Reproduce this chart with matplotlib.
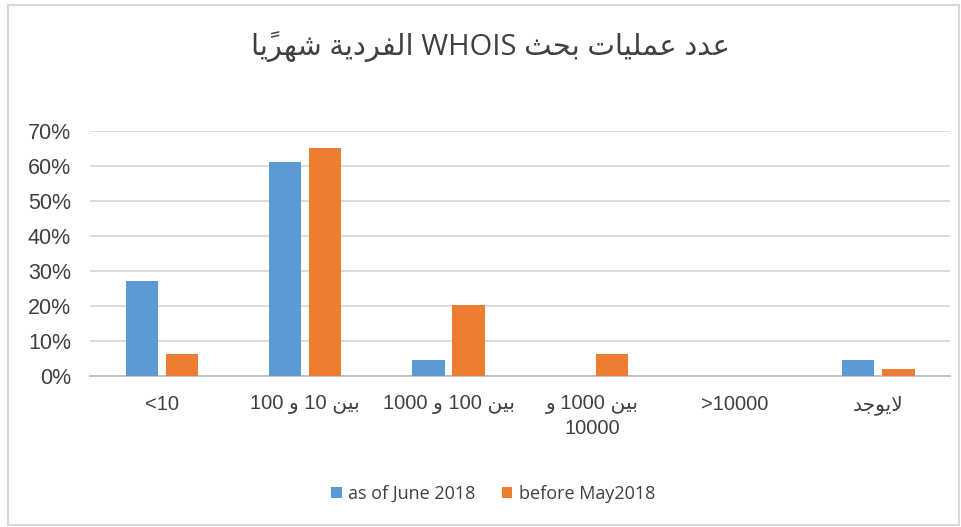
import numpy as np
import matplotlib
matplotlib.use("Agg")
import matplotlib.pyplot as plt
from matplotlib.patches import Rectangle

# chart data
title = "عدد عمليات بحث WHOIS الفردية شهريًا"
categories = ["\u003C10", "بين 10 و 100", "بين 100 و 1000", "بين 1000 و\n10000",
              "\u003E10000", "لايوجد"]
series_names = ["as of June 2018", "before May2018"]
june_2018 = [0.272, 0.611, 0.046, 0.0, 0.0, 0.046]
before_may_2018 = [0.063, 0.652, 0.203, 0.063, 0.0, 0.02]
y_ticks = [0, 0.1, 0.2, 0.3, 0.4, 0.5, 0.6, 0.7]

# matplotlib has no Arabic shaping, so pick presentation forms by hand
# (isolated, final, initial, medial)
FORMS = {
    "ا": ("\uFE8D", "\uFE8E", None, None),
    "ب": ("\uFE8F", "\uFE90", "\uFE91", "\uFE92"),
    "ة": ("\uFE93", "\uFE94", None, None),
    "ت": ("\uFE95", "\uFE96", "\uFE97", "\uFE98"),
    "ث": ("\uFE99", "\uFE9A", "\uFE9B", "\uFE9C"),
    "ج": ("\uFE9D", "\uFE9E", "\uFE9F", "\uFEA0"),
    "ح": ("\uFEA1", "\uFEA2", "\uFEA3", "\uFEA4"),
    "د": ("\uFEA9", "\uFEAA", None, None),
    "ر": ("\uFEAD", "\uFEAE", None, None),
    "ش": ("\uFEB5", "\uFEB6", "\uFEB7", "\uFEB8"),
    "ع": ("\uFEC9", "\uFECA", "\uFECB", "\uFECC"),
    "ف": ("\uFED1", "\uFED2", "\uFED3", "\uFED4"),
    "ل": ("\uFEDD", "\uFEDE", "\uFEDF", "\uFEE0"),
    "م": ("\uFEE1", "\uFEE2", "\uFEE3", "\uFEE4"),
    "ن": ("\uFEE5", "\uFEE6", "\uFEE7", "\uFEE8"),
    "ه": ("\uFEE9", "\uFEEA", "\uFEEB", "\uFEEC"),
    "و": ("\uFEED", "\uFEEE", None, None),
    "ي": ("\uFEF1", "\uFEF2", "\uFEF3", "\uFEF4"),
}
MARKS = "\u064B\u064C\u064D\u064E\u064F\u0650\u0651\u0652"


def is_arabic(s):
    return any("\u0600" <= c <= "\u06FF" for c in s)


def shape_word(word):
    # returns list of clusters (glyph + marks) in logical order
    letters = []
    for c in word:
        if c in MARKS and letters:
            letters[-1][1] += c
        else:
            letters.append([c, ""])
    out = []
    i = 0
    while i < len(letters):
        c, marks = letters[i]
        prev = letters[i - 1][0] if i > 0 else None
        prev_joins = prev in FORMS and FORMS[prev][2] is not None
        if c == "ل" and i + 1 < len(letters) and letters[i + 1][0] == "ا":
            out.append(("\uFEFC" if prev_joins else "\uFEFB") + marks + letters[i + 1][1])
            i += 2
            continue
        if c not in FORMS:
            out.append(c + marks)
            i += 1
            continue
        nxt = letters[i + 1][0] if i + 1 < len(letters) else None
        next_joins = FORMS[c][2] is not None and nxt in FORMS
        f = FORMS[c]
        if prev_joins and next_joins:
            g = f[3]
        elif prev_joins:
            g = f[1]
        elif next_joins:
            g = f[2]
        else:
            g = f[0]
        out.append(g + marks)
        i += 1
    return out


def visual(text):
    lines = []
    for line in text.split("\n"):
        if not is_arabic(line):
            lines.append(line)
            continue
        tokens = []
        for tok in line.split(" "):
            if is_arabic(tok):
                tokens.append("".join(reversed(shape_word(tok))))
            else:
                tokens.append(tok)
        lines.append(" ".join(reversed(tokens)))
    return "\n".join(lines)


blue = "#5B9BD5"
orange = "#ED7D31"
label_font = ["Liberation Sans", "DejaVu Sans"]
title_font = ["Open Sans", "DejaVu Sans"]

fig = plt.figure(figsize=(9.61, 5.27), dpi=100)
ax = fig.add_axes([0.094, 0.2865, 0.8946, 0.4649])

x = np.arange(len(categories))
w = 0.225
ax.bar(x - 0.14, june_2018, w, color=blue, label=series_names[0], zorder=3)
ax.bar(x + 0.14, before_may_2018, w, color=orange, label=series_names[1], zorder=3)

ax.set_xlim(-0.5, len(categories) - 0.5)
ax.set_ylim(0, 0.7)
ax.set_yticks(y_ticks)
ax.set_yticklabels([f"{int(round(t * 100))}%" for t in y_ticks], family=label_font,
                   fontsize=15.5, color="#404040")
ax.set_xticks(x)
ax.set_xticklabels([visual(c) for c in categories], family=label_font,
                   fontsize=14.5, color="#404040", linespacing=1.3)
ax.tick_params(axis="both", length=0)
ax.tick_params(axis="x", pad=14)
ax.tick_params(axis="y", pad=14)
ax.grid(axis="y", color="#d9d9d9", linewidth=1.3, zorder=0)
for s in ["top", "right", "left"]:
    ax.spines[s].set_visible(False)
ax.spines["bottom"].set_color("#bfbfbf")
ax.spines["bottom"].set_linewidth(1.3)

fig.text(0.51, 0.912, visual(title), ha="center", va="center",
         family=title_font, fontsize=21, color="#404040")

leg = fig.legend(loc="center", bbox_to_anchor=(0.513, 0.063), ncol=2, frameon=False,
                 prop={"family": title_font, "size": 13}, handlelength=0.6,
                 handleheight=0.6, handletextpad=0.35, columnspacing=1.45)
for t in leg.get_texts():
    t.set_color("#404040")

fig.patches.append(Rectangle((0.008, 0.003), 0.99, 0.988, transform=fig.transFigure,
                             fill=False, edgecolor="#d9d9d9", linewidth=1.5))

fig.savefig("out.png", dpi=100)
